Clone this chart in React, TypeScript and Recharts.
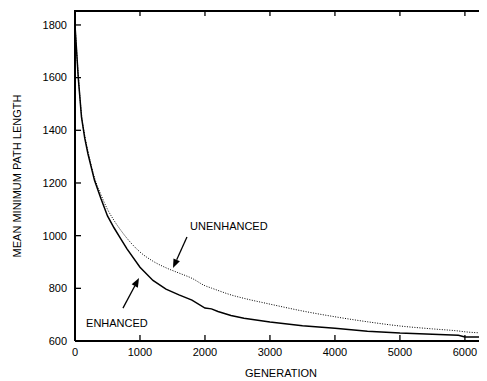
import { LineChart, Line, XAxis, YAxis, ReferenceLine, ReferenceDot } from 'recharts';

const generations = [0, 50, 100, 150, 200, 300, 400, 500, 600, 700, 800, 1000, 1200, 1400, 1600, 1800, 2000, 2100, 2200, 2400, 2600, 3000, 3500, 4000, 4500, 5000, 5500, 5900, 6000, 6340];
const enhanced = [1800, 1600, 1450, 1370, 1310, 1210, 1140, 1075, 1030, 990, 950, 880, 830, 797, 775, 755, 725, 722, 712, 697, 686, 672, 658, 648, 637, 630, 626, 622, 615, 615];
const unenhanced = [1800, 1610, 1460, 1380, 1320, 1220, 1155, 1100, 1058, 1022, 990, 938, 903, 878, 858, 838, 810, 801, 792, 775, 762, 740, 714, 692, 673, 657, 646, 638, 635, 630];

const xTicks = [0, 1000, 2000, 3000, 4000, 5000, 6000];
const yTicks = [600, 800, 1000, 1200, 1400, 1600, 1800];
const yMax = 1853;

const data = generations.map((g, i) => ({ g, enhanced: enhanced[i], unenhanced: unenhanced[i] }));

const font = { fontFamily: 'Liberation Sans, Arial, sans-serif', fontSize: 11, fill: '#000' };

const BottomTick = (p: any) => (
  <g>
    <line x1={p.x} y1={p.y - 1} x2={p.x} y2={p.y - 6} stroke="#000" strokeWidth={1.3} />
    <text x={p.x} y={p.y + 15} textAnchor="middle" {...font}>
      {p.payload.value}
    </text>
  </g>
);

const LeftTick = (p: any) => (
  <g>
    <line x1={p.x + 1} y1={p.y} x2={p.x + 6} y2={p.y} stroke="#000" strokeWidth={1.3} />
    <text x={p.x - 8} y={p.y} dy="0.35em" textAnchor="end" {...font}>
      {p.payload.value}
    </text>
  </g>
);

// top frame: border line with inward ticks at the x tick values
const TopFrame = (props: any) => {
  const { x1, y1, x2 } = props;
  const w = x2 - x1;
  return (
    <g>
      <line x1={x1 - 1} y1={y1} x2={x2} y2={y1} stroke="#000" strokeWidth={2} />
      {xTicks.slice(1).map((t) => {
        const x = x1 + (t / 6340) * w;
        return <line key={t} x1={x} y1={y1} x2={x} y2={y1 + 5} stroke="#000" strokeWidth={1.3} />;
      })}
    </g>
  );
};

const Arrow = (props: any) => {
  const { x1, y1, x2, y2 } = props;
  const dx = x2 - x1;
  const dy = y2 - y1;
  const len = Math.sqrt(dx * dx + dy * dy);
  const ux = dx / len;
  const uy = dy / len;
  const hl = 9;
  const hw = 3.5;
  const bx = x2 - ux * hl;
  const by = y2 - uy * hl;
  return (
    <g>
      <line x1={x1} y1={y1} x2={bx} y2={by} stroke="#000" strokeWidth={1.3} />
      <polygon
        points={`${x2},${y2} ${bx - uy * hw},${by + ux * hw} ${bx + uy * hw},${by - ux * hw}`}
        fill="#000"
      />
    </g>
  );
};

const textShape = (label: string) => (p: any) => (
  <text x={p.cx} y={p.cy} dy="0.35em" {...font}>
    {label}
  </text>
);

export default function App() {
  return (
    <div style={{ margin: '-8px 0 0 -8px', width: 487, height: 381 }}>
      <LineChart width={487} height={381} data={data} margin={{ top: 11, right: 0, bottom: 0, left: 0 }}>
        <XAxis
          dataKey="g"
          type="number"
          domain={[0, 6340]}
          ticks={xTicks}
          height={40}
          tickSize={0}
          tickMargin={0}
          tick={BottomTick}
          axisLine={{ stroke: '#000', strokeWidth: 2 }}
          label={{ value: 'GENERATION', position: 'insideBottom', offset: 4, style: font }}
        />
        <YAxis
          type="number"
          domain={[600, yMax]}
          ticks={yTicks}
          allowDataOverflow
          width={75}
          tickSize={0}
          tickMargin={0}
          tick={LeftTick}
          axisLine={{ stroke: '#000', strokeWidth: 2 }}
          label={{
            value: 'MEAN MINIMUM PATH LENGTH',
            angle: -90,
            position: 'insideLeft',
            offset: 17,
            style: { ...font, textAnchor: 'middle' },
          }}
        />
        <ReferenceLine y={yMax} ifOverflow="visible" shape={TopFrame} />
        <Line
          type="monotone"
          dataKey="unenhanced"
          stroke="#000"
          strokeWidth={1}
          strokeDasharray="1 1.5"
          dot={false}
          isAnimationActive={false}
        />
        <Line dataKey="enhanced" stroke="#000" strokeWidth={1.5} dot={false} isAnimationActive={false} />
        <ReferenceLine segment={[{ x: 1723, y: 995 }, { x: 1508, y: 877 }]} shape={Arrow} />
        <ReferenceLine segment={[{ x: 738, y: 725 }, { x: 985, y: 839 }]} shape={Arrow} />
        <ReferenceDot x={1770} y={1037} r={0} shape={textShape('UNENHANCED')} />
        <ReferenceDot x={170} y={668} r={0} shape={textShape('ENHANCED')} />
      </LineChart>
    </div>
  );
}
